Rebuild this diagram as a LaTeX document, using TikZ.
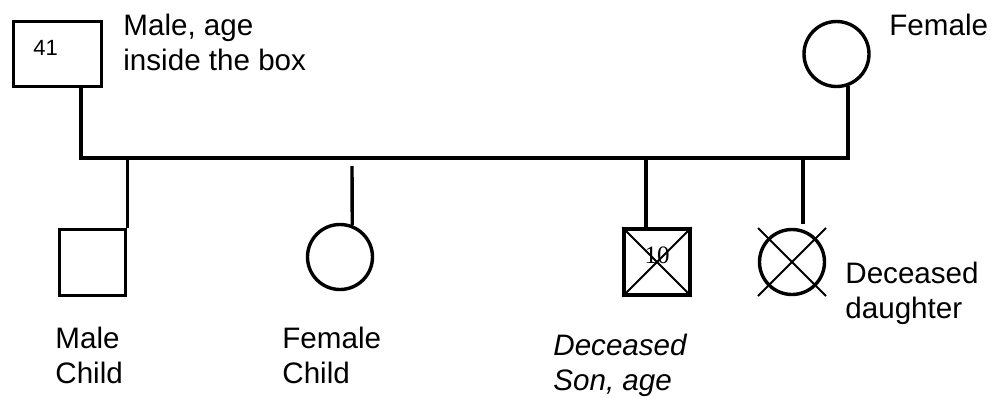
\documentclass[tikz,border=0pt]{standalone}
\usepackage{fontspec}
\setmainfont{Liberation Sans}
\newfontfamily\agefont{Liberation Serif}
\usepackage{tikz}
\usetikzlibrary{positioning, calc}

\begin{document}
\begin{tikzpicture}[
  x=0.5pt, y=-0.5pt,
  every node/.style={font=\fontsize{14.8}{17.5}\selectfont},
  male/.style={rectangle, draw, line width=1.7pt, inner sep=0pt,
               minimum width=#1, minimum height=33pt},
  male/.default=33pt,
  female/.style={circle, draw, line width=1.7pt, inner sep=0pt,
                 minimum size=32.5pt},
  link/.style={line width=1.7pt},
  cross/.style={line width=1pt},
  note/.style={anchor=base west, align=left, inner sep=0pt},
]
\useasboundingbox (0,0) rectangle (992,397);

% Parents
\node[male=44pt, minimum height=32.5pt] (dad) at (57.5,54) {};
\node[female] (mom) at (836.5,54) {};

% Children
\node[male] (son) at (92.5,262.5) {};
\node[female] (girl) at (340,257) {};
\node[male] (lateson) at (657,262) {};
\node[female] (latedtr) at (792,262) {};

% Junctions
\coordinate (dadleg) at (81,158);
\coordinate (momleg) at (848,158);
\coordinate (girltop) at (352,166);
\coordinate (sonleg) at (646,158);
\coordinate (dtrleg) at (803,158);

% Lines
\draw[link] (dad.south -| dadleg) -- (dadleg) -- (momleg) -- (momleg |- mom.-69);
\draw[link] (son.north east) -- (son.north east |- dadleg);
\draw[link] (girl.69) -- (girltop);
\draw[link] (sonleg) -- (sonleg |- lateson.north);
\draw[link] (dtrleg) -- ($(dtrleg |- latedtr.north)+(0,-4)$);

% Deceased marks
\draw[cross] (lateson.north west) -- (lateson.south east);
\draw[cross] (lateson.north east) -- (lateson.south west);
\draw[cross] ($(latedtr.center)+(-34,-34)$) -- ($(latedtr.center)+(34,34)$);
\draw[cross] ($(latedtr.center)+(34,-34)$) -- ($(latedtr.center)+(-34,34)$);

% Ages (base is the last line)
\node[note, font=\fontsize{11}{13}\selectfont] (dadage) at (33,55) {41};
\node[anchor=base, inner sep=0pt, font=\agefont\fontsize{12.5}{13}\selectfont] (sonage)
  at (657,263) {10};

% Labels
\node[note] (dadtxt) at (123,70) {Male, age\\inside the box};
\node[note] (momtxt) at (889,35) {Female};
\node[note] (sontxt) at (55,383) {Male\\Child};
\node[note] (girltxt) at (282,383) {Female\\Child};
\node[note, font=\fontsize{14.8}{17.5}\selectfont\itshape] (latesontxt) at (553,390)
  {Deceased\\Son, age};
\node[note] (latedtrtxt) at (845,318) {Deceased\\daughter};

\end{tikzpicture}
\end{document}
